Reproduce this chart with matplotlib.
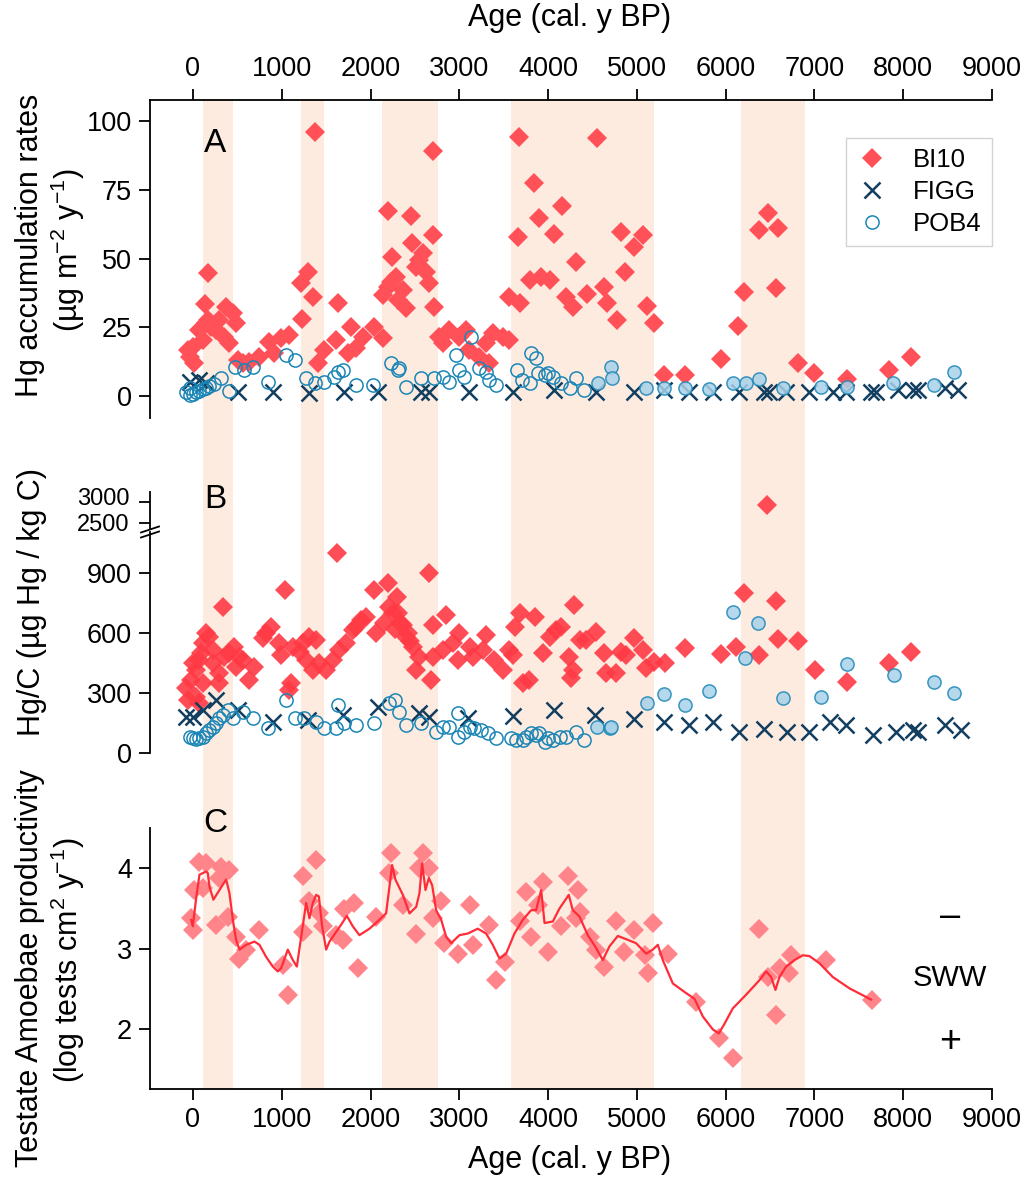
import matplotlib.pyplot as plt
import numpy as np
from matplotlib.lines import Line2D

plt.rcParams['font.family'] = ['Liberation Sans', 'DejaVu Sans']
plt.rcParams['mathtext.fontset'] = 'custom'
plt.rcParams['mathtext.rm'] = 'Liberation Sans'
plt.rcParams['mathtext.it'] = 'Liberation Sans:italic'
plt.rcParams['mathtext.default'] = 'regular'

# ---------------- data (age cal. y BP, value) ----------------
bands = [(110, 450), (1220, 1480), (2130, 2760), (3585, 5190), (6170, 6890)]

bi10_a = [(-58, 16.7), (-39, 14.3), (-2, 17.9), (17, 11.9), (73, 24.0), (110, 20.4), (130, 33.5),
          (149, 26.5), (167, 27.7), (171, 44.7), (205, 25.2), (261, 24.0), (298, 27.7), (355, 21.6),
          (374, 32.5), (411, 19.2), (449, 30.1), (486, 26.5), (505, 13.1), (561, 11.9), (636, 12.5),
          (749, 14.3), (862, 19.8), (918, 15.5), (993, 21.0), (1087, 22.2), (1219, 41.3), (1226, 28.0),
          (1293, 45.3), (1349, 36.2), (1369, 96.2), (1406, 11.9), (1481, 16.7), (1613, 20.4),
          (1630, 33.8), (1744, 15.5), (1782, 25.0), (1838, 17.4), (1913, 21.6), (2044, 25.0),
          (2137, 21.0), (2137, 36.8), (2195, 67.5), (2195, 39.8), (2233, 41.6), (2244, 50.7),
          (2289, 43.4), (2307, 34.9), (2364, 38.6), (2401, 31.9), (2457, 65.5), (2465, 55.6),
          (2514, 47.1), (2551, 49.5), (2589, 51.9), (2627, 45.3), (2664, 41.0), (2702, 58.6),
          (2709, 89.2), (2720, 32.5), (2776, 21.6), (2814, 19.2), (2889, 24.0), (3002, 21.6),
          (3077, 24.0), (3114, 16.7), (3227, 14.3), (3302, 19.2), (3340, 11.9), (3377, 22.8),
          (3490, 21.6), (3565, 20.4), (3565, 36.2), (3666, 58.0), (3670, 94.4), (3678, 33.8),
          (3791, 42.2), (3839, 77.6), (3903, 64.7), (3922, 43.4), (4016, 42.2), (4072, 59.0),
          (4154, 69.2), (4204, 36.2), (4279, 32.5), (4317, 48.9), (4436, 37.1), (4549, 93.8),
          (4635, 39.8), (4661, 34.0), (4774, 27.7), (4823, 59.8), (4871, 45.3), (4962, 54.4),
          (5067, 58.6), (5112, 32.8), (5198, 26.7), (5311, 7.6), (5547, 7.6), (5949, 13.4),
          (6136, 25.5), (6212, 38.0), (6374, 60.4), (6475, 66.8), (6562, 39.2), (6588, 61.0),
          (6812, 12.1), (7000, 8.3), (7364, 6.1), (7845, 9.5), (8089, 14.3)]

figg_a = [(-39, 5.2), (73, 5.8), (149, 4.6), (505, 1.6), (899, 1.6), (1312, 1.0), (1706, 1.6),
          (2082, 1.6), (2570, 1.6), (2664, 1.6), (3107, 1.6), (3610, 1.6), (4072, 2.2), (4534, 1.6),
          (4973, 1.6), (5311, 2.2), (5592, 1.6), (5862, 1.6), (6155, 1.6), (6437, 1.6), (6486, 1.6),
          (6680, 1.6), (6936, 1.6), (7206, 1.6), (7356, 1.6), (7639, 1.6), (7695, 1.6), (7939, 2.2),
          (8108, 2.2), (8164, 2.2), (8465, 2.8), (8615, 2.2)]

pob4_a_open = [(-77, 1.4), (-39, 0.5), (-39, 3.1), (-2, 0.8), (36, 1.4), (73, 2.0), (111, 2.6),
               (149, 3.1), (186, 3.7), (242, 4.3), (317, 6.7), (411, 2.0), (479, 10.7), (580, 9.5),
               (681, 10.7), (843, 5.2), (1050, 14.9), (1144, 13.1), (1276, 6.4), (1369, 4.6),
               (1481, 5.2), (1594, 7.0), (1631, 8.9), (1687, 9.5), (1838, 4.0), (2026, 4.0),
               (2233, 11.9), (2307, 9.5), (2326, 10.1), (2401, 3.4), (2570, 6.4), (2720, 6.4),
               (2814, 7.0), (2889, 5.2), (2965, 14.9), (3002, 9.5), (3058, 7.0), (3133, 21.6),
               (3227, 10.1), (3302, 8.9), (3340, 5.8), (3415, 4.0), (3653, 9.5), (3709, 5.8),
               (3791, 4.6), (3809, 15.5), (3866, 13.7), (3884, 8.3), (3960, 7.6), (3997, 8.3),
               (4054, 7.0), (4148, 4.6), (4242, 2.8), (4317, 6.4), (4410, 2.2)]
pob4_a_fill = [(4560, 4.6), (4710, 10.7), (4722, 6.4), (5105, 3.0), (5311, 3.0), (5547, 3.0),
               (5818, 2.4), (6088, 4.8), (6231, 4.8), (6373, 6.1), (6651, 2.8), (7076, 3.4),
               (7364, 3.4), (7890, 4.6), (8352, 4.0), (8570, 8.9)]

bi10_b = [(-77, 322), (-59, 263), (-20, 363), (-2, 447), (36, 413), (36, 280), (73, 463), (73, 247),
          (92, 497), (110, 547), (110, 347), (149, 597), (186, 580), (223, 513), (223, 447),
          (298, 397), (298, 347), (336, 730), (355, 480), (411, 497), (467, 530), (487, 430),
          (524, 480), (561, 463), (636, 363), (693, 430), (787, 572), (824, 597), (881, 630),
          (974, 547), (993, 488), (1031, 813), (1087, 313), (1106, 347), (1125, 530), (1200, 505),
          (1237, 547), (1275, 463), (1312, 580), (1350, 413), (1388, 563), (1425, 447), (1500, 413),
          (1575, 463), (1620, 997), (1650, 513), (1725, 547), (1800, 613), (1838, 630), (1895, 663),
          (1950, 680), (2044, 813), (2063, 597), (2157, 647), (2194, 847), (2213, 730), (2250, 700),
          (2270, 620), (2300, 780), (2307, 697), (2330, 650), (2363, 638), (2401, 580), (2420, 600),
          (2440, 560), (2476, 530), (2514, 413), (2551, 480), (2664, 897), (2683, 363), (2702, 638),
          (2702, 480), (2815, 513), (2852, 688), (2927, 547), (2983, 463), (3002, 597), (3115, 530),
          (3152, 480), (3265, 513), (3302, 588), (3396, 463), (3490, 413), (3565, 513), (3603, 488),
          (3622, 630), (3678, 697), (3715, 347), (3790, 363), (3847, 680), (3940, 497), (4016, 580),
          (4091, 613), (4147, 630), (4241, 480), (4260, 372), (4279, 413), (4297, 738), (4354, 563),
          (4429, 563), (4541, 605), (4635, 497), (4654, 397), (4767, 397), (4823, 505), (4879, 488),
          (4973, 572), (5067, 513), (5105, 422), (5198, 455), (5322, 447), (5547, 522), (5949, 493),
          (6118, 530), (6212, 797), (6374, 488), (6562, 760), (6588, 567), (6813, 560), (7001, 413),
          (7364, 355), (7837, 450), (8089, 505)]
bi10_b_high = [(6463, 2930)]

figg_b = [(-77, 180), (-2, 180), (110, 213), (261, 263), (505, 213), (899, 155), (1293, 163),
          (1687, 188), (2082, 230), (2551, 197), (2664, 180), (3096, 172), (3603, 183), (4072, 213),
          (4523, 188), (4973, 167), (5300, 155), (5592, 138), (5855, 155), (6155, 105), (6437, 117),
          (6689, 105), (6936, 105), (7177, 155), (7350, 138), (7657, 88), (7921, 105), (8108, 113),
          (8164, 105), (8465, 138), (8653, 113)]

pob4_b_open = [(-39, 80), (-2, 72), (36, 67), (73, 72), (110, 80), (149, 97), (186, 113), (223, 130),
               (261, 147), (298, 172), (336, 188), (392, 213), (449, 172), (561, 205), (674, 172),
               (843, 122), (1050, 263), (1144, 172), (1256, 172), (1388, 155), (1481, 122),
               (1613, 122), (1631, 238), (1706, 147), (1838, 138), (2044, 147), (2213, 247),
               (2280, 263), (2326, 205), (2401, 138), (2570, 147), (2739, 105), (2814, 130),
               (2889, 130), (2983, 197), (2983, 80), (3058, 105), (3115, 130), (3171, 122),
               (3246, 113), (3321, 97), (3415, 72), (3584, 72), (3640, 63), (3715, 63), (3753, 80),
               (3809, 97), (3866, 88), (3903, 97), (3960, 55), (3997, 72), (4054, 63), (4129, 80),
               (4204, 80), (4317, 105), (4410, 63)]
pob4_b_fill = [(4549, 127), (4692, 125), (4710, 130), (5112, 250), (5311, 293), (5547, 238),
               (5818, 310), (6088, 705), (6223, 472), (6362, 650), (6651, 272), (7076, 278),
               (7364, 442), (7894, 388), (8344, 352), (8570, 298)]

ta_pts = [(73, 4.08), (149, 4.07), (17, 3.73), (110, 3.75), (-20, 3.38), (-2, 3.23), (261, 3.30),
          (318, 4.02), (411, 3.98), (298, 3.88), (392, 3.40), (486, 3.15), (524, 2.88), (599, 2.99),
          (749, 3.23), (1012, 2.80), (1068, 2.43), (1237, 3.90), (1388, 4.10), (1312, 3.59),
          (1425, 3.44), (1237, 3.21), (1462, 3.28), (1613, 3.17), (1687, 3.11), (1706, 3.50),
          (1819, 3.57), (1857, 2.76), (2063, 3.40), (2233, 4.19), (2213, 3.94), (2364, 3.54),
          (2514, 3.19), (2589, 4.19), (2664, 4.00), (2551, 4.00), (2702, 3.38), (2796, 3.59),
          (2833, 3.07), (2983, 2.94), (3115, 3.54), (3152, 3.05), (3340, 3.30), (3509, 2.84),
          (3415, 2.61), (3678, 3.34), (3753, 3.71), (3809, 3.15), (3940, 3.83), (3997, 2.96),
          (3884, 3.54), (4223, 3.90), (4335, 3.73), (4317, 3.38), (4148, 3.28), (4467, 3.15),
          (4354, 3.46), (4541, 2.99), (4635, 2.78), (4767, 3.34), (4860, 2.96), (4973, 3.23),
          (5086, 2.92), (5123, 2.70), (5180, 3.32), (5348, 2.94), (5668, 2.34), (5930, 1.89),
          (6080, 1.64), (6374, 3.25), (6475, 2.65), (6569, 2.18), (6607, 2.76), (6719, 2.70),
          (6738, 2.92), (7133, 2.86), (7650, 2.37)]

ta_line = [(-20, 3.36), (-2, 3.28), (36, 3.63), (73, 3.92), (110, 3.94), (149, 3.96), (167, 3.94),
           (186, 3.77), (230, 3.61), (298, 3.73), (374, 3.86), (411, 3.69), (449, 3.36), (486, 3.11),
           (524, 2.99), (599, 3.05), (693, 3.09), (749, 3.05), (824, 2.90), (899, 2.78), (955, 2.72),
           (993, 2.76), (1068, 2.99), (1125, 2.86), (1170, 2.78), (1219, 3.15), (1275, 3.57),
           (1312, 3.38), (1350, 3.57), (1388, 3.67), (1418, 3.65), (1455, 3.28), (1500, 2.99),
           (1538, 3.09), (1613, 3.21), (1669, 3.30), (1733, 3.41), (1800, 3.28), (1875, 3.17),
           (1988, 3.25), (2100, 3.36), (2175, 3.44), (2213, 3.77), (2243, 4.04), (2280, 3.86),
           (2364, 3.67), (2439, 3.44), (2514, 3.52), (2551, 3.69), (2581, 4.06), (2619, 3.73),
           (2657, 3.88), (2694, 3.79), (2739, 3.48), (2796, 3.36), (2852, 3.15), (2908, 3.07),
           (3002, 3.17), (3096, 3.19), (3208, 3.25), (3302, 3.19), (3377, 3.05), (3452, 2.88),
           (3527, 2.94), (3621, 3.19), (3715, 3.36), (3809, 3.48), (3865, 3.48), (3922, 3.73),
           (3960, 3.32), (4054, 3.34), (4128, 3.50), (4233, 3.67), (4278, 3.48), (4354, 3.40),
           (4447, 3.17), (4541, 3.01), (4616, 2.86), (4691, 3.03), (4785, 3.16), (4879, 3.12),
           (4991, 3.07), (5104, 2.94), (5179, 2.99), (5236, 3.05), (5292, 2.86), (5405, 2.57),
           (5555, 2.45), (5649, 2.38), (5743, 2.16), (5855, 2.00), (5923, 1.95), (5987, 2.07),
           (6080, 2.26), (6230, 2.43), (6380, 2.61), (6456, 2.72), (6512, 2.65), (6561, 2.49),
           (6606, 2.65), (6681, 2.78), (6775, 2.86), (6869, 2.92), (6944, 2.91), (7057, 2.82),
           (7207, 2.65), (7394, 2.51), (7638, 2.37)]

x_ticks = np.arange(0, 9001, 1000)
break_ticks = [2500, 3000]

# ---------------- style ----------------
W, H = 1022, 1181
RED = '#FF5157'
RED_B = '#FF3A45'
PINK = '#FF858B'
LINE_RED = '#FF2C38'
NAVY = '#123E60'
BLUE = '#1B86B6'
LBLUE = '#A8D2EA'
SHADE = '#FDEBE0'
XLIM = (-484, 9000)
TICK = 19.5
LAB = 22
LW = 1.3


def rect(l, t, r, b):
    return [l / W, 1 - b / H, (r - l) / W, (b - t) / H]


def xy(pts):
    a = np.array(pts, dtype=float)
    return a[:, 0], a[:, 1]


def style(ax, left=True):
    for s in ['top', 'right', 'bottom', 'left']:
        ax.spines[s].set_visible(False)
    ax.spines['left'].set_visible(left)
    ax.spines['left'].set_linewidth(LW)
    ax.set_facecolor('none')
    ax.set_xlim(*XLIM)
    ax.tick_params(direction='out', length=8, width=LW, labelsize=TICK, pad=5)
    ax.set_xticks([])


fig = plt.figure(figsize=(W / 100, H / 100), dpi=100)

# shading behind all panels
ax_bg = fig.add_axes(rect(150, 100, 992, 1089))
ax_bg.set_xlim(*XLIM)
ax_bg.axis('off')
for b0, b1 in bands:
    ax_bg.axvspan(b0, b1, color=SHADE, lw=0)

dkw = dict(ls='none', marker='D', ms=9.8, mew=0)
xkw = dict(ls='none', marker='x', ms=11, mew=1.8, color=NAVY)
okw = dict(ls='none', marker='o', ms=9.5, mew=1.1, mec=BLUE)

# ---------------- panel A ----------------
ax_a = fig.add_axes(rect(150, 100, 992, 418))
style(ax_a)
ax_a.spines['top'].set_visible(True)
ax_a.spines['top'].set_linewidth(LW)
ax_a.set_ylim(-8.0, 107.75)
ax_a.set_yticks([0, 25, 50, 75, 100])
ax_a.xaxis.tick_top()
ax_a.set_xticks(x_ticks)
ax_a.tick_params(axis='x', top=True, bottom=False, labeltop=True, labelbottom=False)
x, y = xy(bi10_a)
h1, = ax_a.plot(x, y, color=RED, clip_on=False, **dkw)
x, y = xy(figg_a)
h2, = ax_a.plot(x, y, clip_on=False, **xkw)
x, y = xy(pob4_a_open)
h3, = ax_a.plot(x, y, mfc='none', clip_on=False, **okw)
x, y = xy(pob4_a_fill)
ax_a.plot(x, y, mfc=LBLUE, alpha=0.85, clip_on=False, **okw)
leg = ax_a.legend([h1, h2, h3], ['BI10', 'FIGG', 'POB4'], loc='upper right',
                  bbox_to_anchor=(992 / W, 1 - 138 / H), bbox_transform=fig.transFigure,
                  borderaxespad=0, fontsize=18.5, frameon=True, fancybox=False,
                  handlelength=1.2, handletextpad=1.0, labelspacing=0.3, borderpad=0.4)
leg.get_frame().set_edgecolor('#C8C8C8')
leg.get_frame().set_linewidth(1.0)

# ---------------- panel B (broken axis) ----------------
ax_bt = fig.add_axes(rect(150, 492, 992, 528))
style(ax_bt)
ax_bt.set_ylim(2367, 3242)
ax_bt.set_yticks(break_ticks)
ax_bt.set_yticklabels([])
# the two labels sit very close, nudge them apart a little
for val, shift in zip(break_ticks, (-70, 70)):
    ax_bt.text(-0.024, val + shift, str(val), transform=ax_bt.get_yaxis_transform(),
               ha='right', va='center', fontsize=17)
x, y = xy(bi10_b_high)
ax_bt.plot(x, y, color=RED_B, alpha=0.9, clip_on=False, **dkw)

ax_b = fig.add_axes(rect(150, 532, 992, 752.7))
style(ax_b)
ax_b.set_ylim(0, 1103)
ax_b.set_yticks([0, 300, 600, 900])
x, y = xy(bi10_b)
ax_b.plot(x, y, color=RED_B, alpha=0.9, clip_on=False, **dkw)
x, y = xy(figg_b)
ax_b.plot(x, y, clip_on=False, **xkw)
x, y = xy(pob4_b_open)
ax_b.plot(x, y, mfc='none', clip_on=False, **okw)
x, y = xy(pob4_b_fill)
ax_b.plot(x, y, mfc=LBLUE, alpha=0.85, clip_on=False, **okw)

# break marks on the B axis
for y0 in (529.5, 534.5):
    fig.add_artist(Line2D([141 / W, 159 / W], [1 - (y0 + 3) / H, 1 - (y0 - 3) / H],
                          color='black', lw=LW))

# ---------------- panel C ----------------
ax_c = fig.add_axes(rect(150, 828, 992, 1089))
style(ax_c)
ax_c.spines['bottom'].set_visible(True)
ax_c.spines['bottom'].set_linewidth(LW)
ax_c.set_ylim(1.26, 4.50)
ax_c.set_yticks([2, 3, 4])
ax_c.set_xticks(x_ticks)
x, y = xy(ta_pts)
ax_c.plot(x, y, color=PINK, clip_on=False, **dkw)
x, y = xy(ta_line)
ax_c.plot(x, y, color=LINE_RED, lw=1.6)

# ---------------- texts ----------------
def ftext(px, py, s, **kw):
    fig.text(px / W, 1 - py / H, s, ha='center', va='center', **kw)


ftext(570, 18, 'Age (cal. y BP)', fontsize=LAB)
ftext(570, 1160, 'Age (cal. y BP)', fontsize=LAB)
ftext(215, 143, 'A', fontsize=24)
ftext(215, 500, 'B', fontsize=24)
ftext(215, 823, 'C', fontsize=24)
ftext(30, 245, 'Hg accumulation rates', fontsize=LAB, rotation=90)
ftext(68, 250, r'(µg m$^{-2}$ y$^{-1}$)', fontsize=LAB, rotation=90)
ftext(32, 602, 'Hg/C (µg Hg / kg C)', fontsize=LAB, rotation=90)
ftext(30, 968, 'Testate Amoebae productivity', fontsize=LAB, rotation=90)
ftext(68, 960, r'(log tests cm$^{2}$ y$^{-1}$)', fontsize=LAB, rotation=90)
ftext(950, 917, '–', fontsize=26)
ftext(950, 978, 'SWW', fontsize=21)
ftext(950, 1042, '+', fontsize=27)

fig.savefig('out.png', dpi=100)
